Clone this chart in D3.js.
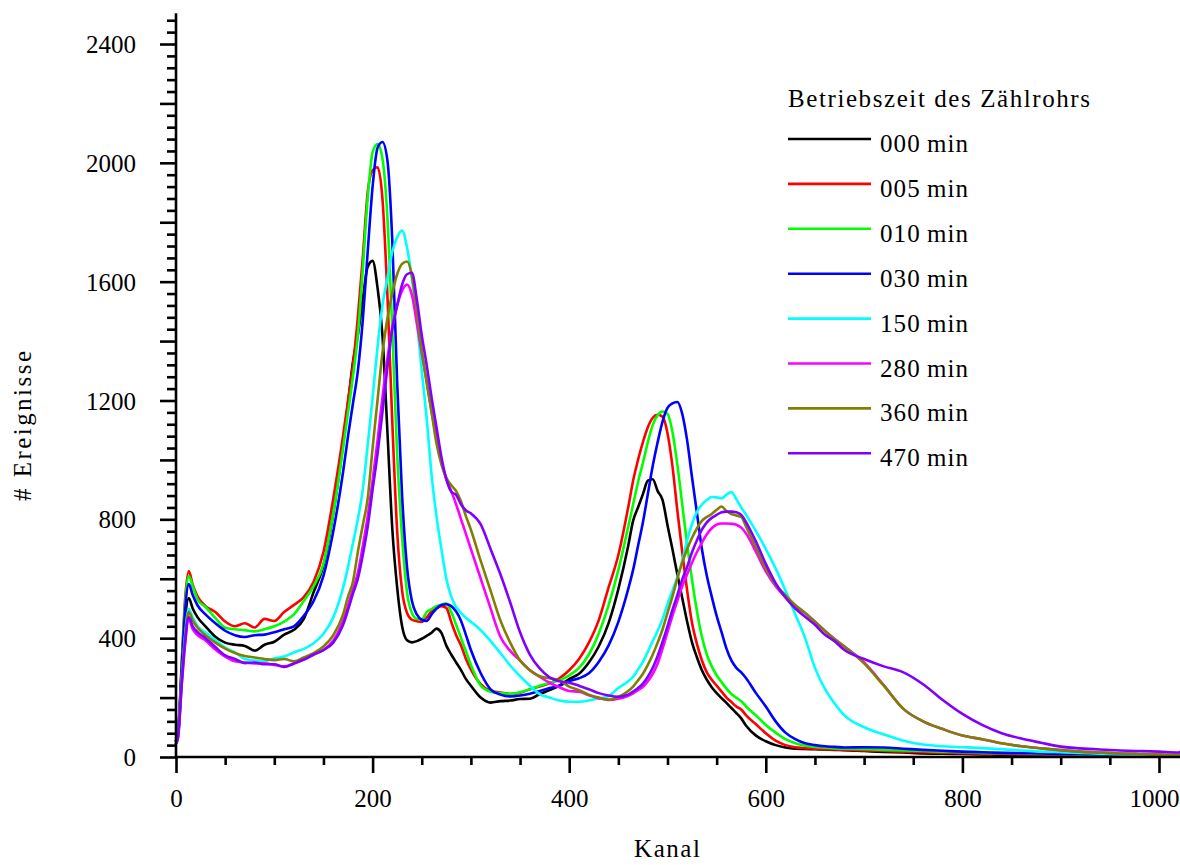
<!DOCTYPE html>
<html>
<head>
<meta charset="utf-8">
<script src="https://cdn.jsdelivr.net/npm/d3@7"></script>
<style>
  html, body { margin: 0; padding: 0; background: #fff; }
  svg { display: block; font-family: "Liberation Serif", "Times New Roman", serif; }
</style>
</head>
<body>
<svg id="chart" width="1180" height="865"></svg>
<script>
// Channel numbers at which the spectra are sampled
const kanal = [
  0, 2, 6, 9, 13, 17, 22, 30, 40, 50, 60, 70, 80, 90, 100, 110, 120, 130, 140, 150, 160, 170,
  175, 180, 185, 190, 195, 200, 205, 210, 215, 220, 225, 230, 235, 240, 245, 250, 255, 260, 265, 270, 275, 280, 285, 290, 295, 300,
  310, 320, 330, 340, 350, 360, 370, 380, 390, 400, 410, 420, 430, 440, 450, 460,
  465, 470, 475, 480, 485, 490, 495, 500, 505, 510, 515, 520, 525, 530, 535, 540, 545, 550, 555, 560, 565, 570, 575, 580,
  590, 600, 610, 620, 630, 640, 650, 660, 670, 680,
  700, 720, 740, 760, 780, 800, 820, 840, 860, 880, 900, 920, 940, 960, 980, 1000, 1020, 1023
];

// Counts per channel for each operating time of the counter tube
const zeit000 = [
  55, 70, 300, 450, 535, 500, 470, 440, 405, 385, 378, 374, 358, 378, 388, 412, 428, 465, 555, 645, 820, 1055,
  1190, 1330, 1420, 1540, 1650, 1670, 1580, 1420, 1100, 770, 570, 440, 393, 386, 390, 398, 408, 418, 432, 418, 375, 345, 318, 292, 262, 240,
  200, 183, 188, 190, 195, 196, 212, 225, 240, 262, 280, 318, 372, 450, 565, 710,
  795, 840, 885, 930, 935, 895, 865, 780, 700, 615, 535, 455, 385, 335, 292, 260, 235, 215, 198, 182, 165, 148, 130, 105,
  72, 53, 40, 32, 28, 27, 26, 25, 24, 23,
  20, 17, 15, 12, 11, 10, 9, 8, 8, 7, 6, 6, 5, 5, 5, 4, 4, 4
];
const zeit005 = [
  55, 80, 330, 520, 626, 580, 540, 508, 488, 456, 440, 450, 436, 465, 458, 488, 512, 538, 590, 690, 870, 1082,
  1200, 1320, 1480, 1680, 1900, 1975, 1985, 1880, 1560, 1130, 760, 560, 485, 462, 457, 455, 470, 490, 500, 508, 502, 455, 410, 375, 330, 295,
  245, 222, 217, 212, 216, 228, 237, 248, 265, 292, 330, 385, 460, 570, 680, 840,
  930, 1000, 1060, 1110, 1142, 1152, 1145, 1090, 980, 830, 690, 560, 450, 380, 325, 285, 260, 240, 220, 200, 185, 170, 160, 140,
  110, 80, 55, 40, 33, 30, 28, 26, 25, 24,
  22, 20, 18, 16, 14, 13, 11, 10, 9, 8, 7, 6, 6, 5, 5, 5, 4, 4
];
const zeit010 = [
  55, 80, 320, 500, 609, 575, 530, 505, 468, 435, 430, 427, 423, 430, 440, 456, 480, 525, 575, 650, 820, 1040,
  1160, 1280, 1420, 1640, 1880, 2035, 2063, 2015, 1820, 1440, 1020, 740, 555, 485, 465, 462, 488, 498, 508, 513, 517, 488, 445, 400, 355, 310,
  240, 220, 215, 213, 218, 228, 240, 250, 258, 275, 300, 345, 415, 510, 630, 775,
  850, 925, 990, 1060, 1118, 1150, 1163, 1155, 1095, 985, 850, 715, 595, 490, 405, 345, 305, 275, 252, 230, 212, 200, 188, 170,
  140, 108, 82, 60, 46, 38, 34, 31, 29, 28,
  26, 24, 22, 20, 18, 16, 14, 13, 12, 11, 10, 9, 8, 8, 7, 6, 6, 6
];
const zeit030 = [
  55, 80, 310, 480, 582, 545, 510, 480, 450, 425, 410, 404, 410, 412, 420, 430, 440, 475, 525, 610, 760, 960,
  1080, 1190, 1300, 1470, 1700, 1920, 2050, 2070, 2010, 1740, 1260, 880, 640, 525, 480, 462, 458, 480, 500, 512, 514, 508, 490, 458, 410, 360,
  282, 228, 210, 204, 207, 213, 222, 232, 240, 255, 265, 282, 320, 375, 455, 565,
  630, 710, 790, 885, 980, 1060, 1130, 1175, 1190, 1195, 1155, 1065, 940, 820, 700, 610, 540, 475, 420, 365, 325, 300, 285, 265,
  215, 170, 120, 82, 60, 46, 40, 36, 34, 32,
  33, 32, 28, 24, 21, 18, 16, 14, 13, 12, 11, 10, 9, 8, 7, 6, 6, 6
];
const zeit150 = [
  55, 75, 270, 400, 498, 470, 440, 420, 393, 368, 352, 330, 325, 323, 332, 338, 352, 364, 383, 415, 470, 570,
  640, 720, 800, 900, 1050, 1210, 1380, 1520, 1610, 1700, 1750, 1772, 1715, 1610, 1470, 1300, 1140, 950, 810, 700, 600, 540, 505, 485, 468, 455,
  427, 390, 350, 308, 272, 240, 212, 200, 190, 186, 186, 190, 197, 205, 232, 255,
  270, 295, 320, 355, 390, 425, 465, 515, 560, 605, 660, 730, 785, 825, 850, 865, 875, 874, 871, 883, 892, 868, 840, 815,
  760, 700, 635, 560, 480, 400, 300, 230, 180, 140,
  100, 76, 55, 42, 36, 33, 30, 26, 22, 18, 16, 14, 11, 9, 7, 6, 6, 6
];
const zeit280 = [
  45, 65, 250, 370, 463, 430, 410, 392, 362, 338, 322, 318, 315, 315, 310, 305, 315, 328, 345, 360, 392, 460,
  510, 565, 620, 710, 810, 930, 1065, 1210, 1340, 1445, 1520, 1570, 1590, 1555, 1460, 1360, 1265, 1164, 1075, 995, 935, 895, 850, 800, 750, 700,
  600, 500, 405, 357, 325, 292, 270, 250, 235, 222, 220, 208, 198, 192, 196, 206,
  214, 225, 236, 255, 280, 315, 365, 420, 475, 525, 575, 615, 655, 690, 722, 750, 770, 782, 786, 786, 785, 782, 772, 752,
  690, 625, 575, 538, 505, 485, 455, 425, 397, 372,
  318, 242, 162, 120, 94, 72, 60, 46, 36, 29, 23, 18, 15, 12, 10, 8, 7, 7
];
const zeit360 = [
  55, 75, 270, 390, 488, 460, 435, 410, 385, 365, 350, 340, 335, 330, 326, 330, 322, 335, 350, 372, 410, 480,
  540, 590, 690, 780, 870, 1040, 1200, 1360, 1475, 1560, 1625, 1660, 1668, 1620, 1500, 1370, 1260, 1160, 1055, 985, 940, 915, 895, 860, 810, 765,
  660, 560, 460, 385, 325, 292, 272, 265, 258, 237, 225, 210, 200, 193, 202, 222,
  237, 258, 280, 310, 345, 385, 430, 485, 540, 600, 655, 700, 738, 770, 795, 808, 818, 832, 843, 828, 818, 813, 808, 775,
  705, 635, 580, 545, 512, 485, 455, 425, 397, 372,
  315, 240, 162, 120, 94, 72, 60, 46, 36, 29, 23, 18, 15, 12, 10, 8, 7, 7
];
const zeit470 = [
  45, 65, 255, 380, 470, 440, 420, 400, 370, 342, 330, 316, 318, 312, 312, 303, 315, 328, 345, 360, 385, 445,
  495, 550, 600, 680, 775, 900, 1020, 1160, 1310, 1440, 1520, 1590, 1625, 1630, 1540, 1420, 1320, 1210, 1110, 1010, 935, 893, 882, 850, 830, 820,
  783, 700, 615, 520, 420, 345, 298, 268, 255, 250, 240, 228, 215, 207, 203, 210,
  220, 232, 247, 270, 300, 340, 388, 440, 495, 545, 598, 640, 690, 730, 765, 790, 805, 815, 824, 826, 826, 824, 815, 790,
  725, 650, 585, 537, 500, 472, 445, 412, 390, 360,
  330, 305, 285, 245, 192, 145, 108, 80, 62, 48, 35, 29, 25, 22, 20, 18, 15, 22
];

const seriesNames = ["000\u2009min", "005\u2009min", "010\u2009min", "030\u2009min",
                     "150\u2009min", "280\u2009min", "360\u2009min", "470\u2009min"];
const seriesValues = [zeit000, zeit005, zeit010, zeit030, zeit150, zeit280, zeit360, zeit470];
const seriesColors = ["#000000", "#ff0000", "#00ff00", "#0000ff",
                      "#00ffff", "#ff00ff", "#808000", "#8000ff"];

const xTicks = [0, 50, 100, 150, 200, 250, 300, 350, 400, 450, 500, 550, 600, 650, 700, 750, 800, 850, 900, 950, 1000];
const xLabelled = [0, 200, 400, 600, 800, 1000];
const yLabelled = [0, 400, 800, 1200, 1600, 2000, 2400];

const legendTitle = "Betriebszeit des Zählrohrs";
const xTitle = "Kanal";
const yTitle = "# Ereignisse";

// ---- layout ----
const svg = d3.select("#chart");
const W = 1180, H = 865;
const x = d3.scaleLinear().domain([0, 1000]).range([176, 1159]);
const y = d3.scaleLinear().domain([0, 2400]).range([757, 44]);
const yMax = 2500;
const AXIS_W = 2.6;
const FONT = 25;

// ---- curves ----
const line = d3.line()
  .x(d => x(d[0]))
  .y(d => y(d[1]))
  .curve(d3.curveMonotoneX);

const curves = svg.append("g").attr("class", "curves");
seriesValues.forEach((vals, i) => {
  const pts = kanal.map((k, j) => [k, vals[j]]);
  curves.append("path")
    .attr("d", line(pts))
    .attr("fill", "none")
    .attr("stroke", seriesColors[i])
    .attr("stroke-width", 2.6)
    .attr("stroke-linejoin", "round")
    .attr("stroke-linecap", "round");
});

// ---- x axis ----
const xAxis = d3.axisBottom(x)
  .tickValues(xTicks)
  .tickSize(8)
  .tickSizeOuter(0)
  .tickPadding(0)
  .tickFormat(d => xLabelled.includes(d) ? d3.format("d")(d) : "");
const gx = svg.append("g").attr("transform", `translate(0,${y(0)})`).call(xAxis);
gx.select(".domain").remove();
gx.append("line")
  .attr("x1", x(0)).attr("x2", W)
  .attr("y1", 0).attr("y2", 0)
  .attr("stroke", "#000").attr("stroke-width", AXIS_W);
gx.selectAll(".tick line")
  .attr("stroke-width", AXIS_W)
  .attr("y2", d => d % 200 === 0 ? 16 : 8);
gx.selectAll(".tick text")
  .attr("y", 50)
  .attr("dy", null)
  .attr("font-size", FONT)
  .attr("font-family", "Liberation Serif, serif")
  .attr("fill", "#000");
// the last label would run past the right edge, so it ends there instead
gx.selectAll(".tick text")
  .filter(d => d === 1000)
  .attr("text-anchor", "end")
  .attr("x", W - x(1000) - 1);

// ---- y axis ----
const yTicks = d3.range(0, 2481, 40);
const yAxis = d3.axisLeft(y)
  .tickValues(yTicks)
  .tickSize(9)
  .tickSizeOuter(0)
  .tickFormat(d => yLabelled.includes(d) ? d3.format("d")(d) : "");
const gy = svg.append("g").attr("transform", `translate(${x(0)},0)`).call(yAxis);
gy.select(".domain").remove();
gy.append("line")
  .attr("x1", 0).attr("x2", 0)
  .attr("y1", y(0) + AXIS_W / 2).attr("y2", y(yMax) - 1)
  .attr("stroke", "#000").attr("stroke-width", AXIS_W);
gy.selectAll(".tick line")
  .attr("stroke-width", AXIS_W)
  .attr("x2", d => d % 200 === 0 ? -16 : -9);
gy.selectAll(".tick text")
  .attr("x", -40)
  .attr("dy", "0.34em")
  .attr("font-size", FONT)
  .attr("font-family", "Liberation Serif, serif")
  .attr("fill", "#000");

// ---- axis titles ----
svg.append("text")
  .attr("x", 667).attr("y", 857)
  .attr("text-anchor", "middle")
  .attr("font-size", FONT)
  .attr("textLength", 66)
  .text(xTitle);

svg.append("text")
  .attr("transform", "translate(31,426) rotate(-90)")
  .attr("text-anchor", "middle")
  .attr("font-size", FONT)
  .attr("textLength", 150)
  .text(yTitle);

// ---- legend ----
const legend = svg.append("g").attr("class", "legend");
legend.append("text")
  .attr("x", 788).attr("y", 107)
  .attr("font-size", FONT)
  .attr("textLength", 302)
  .text(legendTitle);

seriesNames.forEach((name, i) => {
  const ly = 139 + i * 44.9;
  legend.append("line")
    .attr("x1", 788).attr("x2", 871)
    .attr("y1", ly).attr("y2", ly)
    .attr("stroke", seriesColors[i])
    .attr("stroke-width", 2.6);
  legend.append("text")
    .attr("x", 880).attr("y", ly + 13)
    .attr("font-size", FONT)
    .attr("textLength", 88)
    .text(name);
});
</script>
</body>
</html>
